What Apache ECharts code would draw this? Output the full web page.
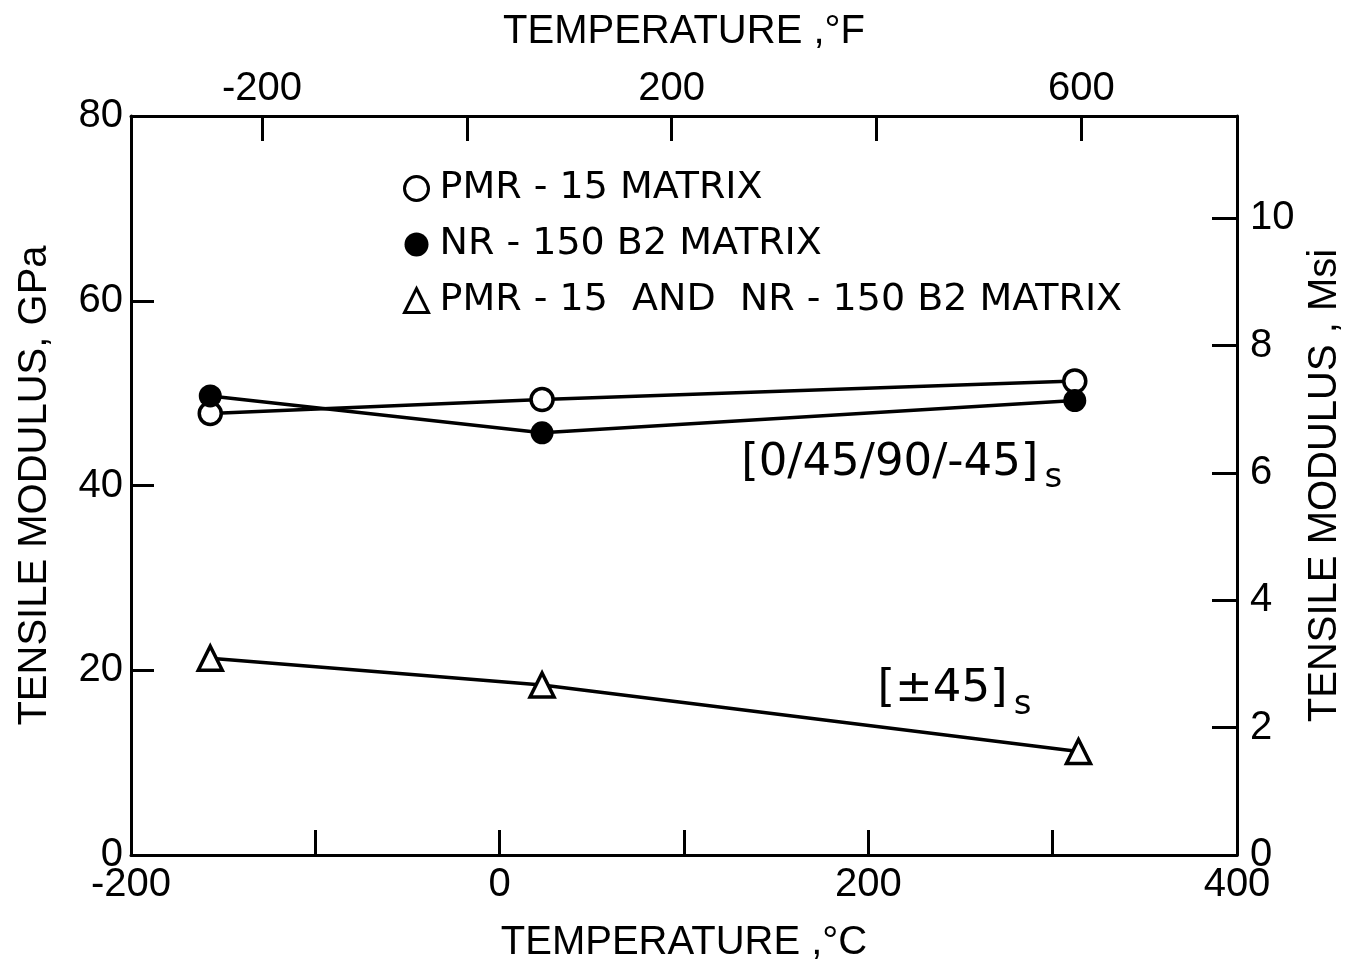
<!DOCTYPE html>
<html>
<head>
<meta charset="utf-8">
<script src="https://cdn.jsdelivr.net/npm/echarts@6/dist/echarts.min.js"></script>
<style>
html,body{margin:0;padding:0;background:#fff;}
#chart{width:1346px;height:968px;}
</style>
</head>
<body>
<div id="chart"></div>
<script>
// ---- data (temperature in °C, modulus in GPa) ----
const pmr15Temp = [-157, 23, 312];
const pmr15Mod = [47.8, 49.3, 51.3];
const nr150Temp = [-157, 23, 312];
const nr150Mod = [49.7, 45.7, 49.2];
const angleTemp = [-157, 23, 314];
const angleMod = [21.3, 18.4, 11.2];

const seriesNames = ['PMR - 15 MATRIX', 'NR - 150 B2 MATRIX', 'PMR - 15  AND  NR - 150 B2 MATRIX'];

const cRange = [-200, 400];
const gpaRange = [0, 80];
const fTicks = [-200, 0, 200, 400, 600];
const fLabels = [-200, 200, 600];
const msiTicks = [0, 2, 4, 6, 8, 10];
const GPA_PER_MSI = 6.894757;

const annoQuasi = { text: '[0/45/90/-45]', sub: 's', t: 131, m: 41.4 };
const annoAngle = { text: '[\u00b145]', sub: 's', t: 205, m: 16.9 };

// ---- chart ----
const FONT = 'Liberation Sans';
const FONT2 = 'DejaVu Sans';
const chart = echarts.init(document.getElementById('chart'), null, { renderer: 'canvas' });

function zip(xs, ys) { return xs.map((x, i) => [x, ys[i]]); }
const toF = c => c * 9 / 5 + 32;

const axisLine = { show: true, onZero: false, lineStyle: { color: '#000', width: 3 } };
const tickStyle = { color: '#000', width: 3 };
const labelStyle = { color: '#000', fontFamily: FONT, fontSize: 40 };
const nameStyle = { color: '#000', fontFamily: FONT, fontSize: 40 };

const option = {
  backgroundColor: '#fff',
  animation: false,
  grid: { left: 131, right: 109, top: 116, bottom: 113, containLabel: false, outerBoundsMode: 'none' },
  legend: {
    orient: 'vertical',
    left: 398,
    top: 163,
    itemWidth: 24,
    itemHeight: 24,
    itemGap: 15,
    textStyle: { color: '#000', fontFamily: FONT2, fontSize: 38, lineHeight: 41, padding: [0, 0, 0, 6] },
    data: [
      { name: seriesNames[0], icon: 'circle', itemStyle: { color: '#fff', borderColor: '#000', borderWidth: 3 } },
      { name: seriesNames[1], icon: 'circle', itemStyle: { color: '#000', borderColor: '#000', borderWidth: 0 } },
      { name: seriesNames[2], icon: 'triangle', itemStyle: { color: '#fff', borderColor: '#000', borderWidth: 3 } }
    ]
  },
  xAxis: [
    {
      type: 'value', position: 'bottom', min: cRange[0], max: cRange[1], interval: 100,
      name: 'TEMPERATURE ,\u00b0C', nameLocation: 'middle', nameGap: 68, nameTextStyle: nameStyle,
      axisLine: axisLine,
      axisTick: { show: true, inside: true, length: 25, lineStyle: tickStyle },
      axisLabel: Object.assign({ margin: 10, formatter: v => (v % 200 === 0 ? String(v) : '') }, labelStyle),
      splitLine: { show: false }
    },
    {
      type: 'value', position: 'top', min: toF(cRange[0]), max: toF(cRange[1]),
      name: 'TEMPERATURE ,\u00b0F', nameLocation: 'middle', nameGap: 64, nameTextStyle: nameStyle,
      axisLine: axisLine,
      axisTick: { show: true, inside: true, length: 25, lineStyle: tickStyle, customValues: fTicks },
      axisLabel: Object.assign({ margin: 7, customValues: fLabels }, labelStyle),
      splitLine: { show: false }
    }
  ],
  yAxis: [
    {
      type: 'value', position: 'left', min: gpaRange[0], max: gpaRange[1], interval: 20,
      name: 'TENSILE MODULUS, GPa', nameLocation: 'middle', nameGap: 76, nameRotate: 90, nameTextStyle: nameStyle,
      axisLine: axisLine,
      axisTick: { show: true, inside: true, length: 23, lineStyle: tickStyle },
      axisLabel: Object.assign({ margin: 8 }, labelStyle),
      splitLine: { show: false }
    },
    {
      type: 'value', position: 'right', min: gpaRange[0] / GPA_PER_MSI, max: gpaRange[1] / GPA_PER_MSI,
      name: 'TENSILE MODULUS , Msi', nameLocation: 'middle', nameGap: 50, nameRotate: 90, nameTextStyle: nameStyle,
      axisLine: axisLine,
      axisTick: { show: true, inside: true, length: 25, lineStyle: tickStyle, customValues: msiTicks },
      axisLabel: Object.assign({ margin: 13, customValues: msiTicks }, labelStyle),
      splitLine: { show: false }
    }
  ],
  series: [
    {
      name: seriesNames[0], type: 'line', xAxisIndex: 0, yAxisIndex: 0,
      data: zip(pmr15Temp, pmr15Mod),
      symbol: 'circle', symbolSize: 22, z: 3,
      lineStyle: { color: '#000', width: 3.5 },
      itemStyle: { color: '#fff', borderColor: '#000', borderWidth: 3.5 }
    },
    {
      name: seriesNames[1], type: 'line', xAxisIndex: 0, yAxisIndex: 0,
      data: zip(nr150Temp, nr150Mod),
      symbol: 'circle', symbolSize: 23, z: 4,
      lineStyle: { color: '#000', width: 3.5 },
      itemStyle: { color: '#000', borderColor: '#000', borderWidth: 0 }
    },
    {
      name: seriesNames[2], type: 'line', xAxisIndex: 0, yAxisIndex: 0,
      data: zip(angleTemp, angleMod),
      symbol: 'triangle', symbolSize: 24, z: 3,
      lineStyle: { color: '#000', width: 3.5 },
      itemStyle: { color: '#fff', borderColor: '#000', borderWidth: 3.5 }
    },
    {
      name: 'annotations', type: 'scatter', xAxisIndex: 0, yAxisIndex: 0,
      symbolSize: 0, silent: true, legendHoverLink: false,
      itemStyle: { opacity: 1 },
      data: [annoQuasi, annoAngle].map(a => ({ value: [a.t, a.m], text: a.text, sub: a.sub })),
      label: {
        show: true, position: [0, 0], align: 'left', verticalAlign: 'middle', color: '#000', opacity: 1,
        formatter: p => '{a|' + p.data.text + '}{s|' + p.data.sub + '}',
        rich: {
          a: { fontFamily: FONT2, fontSize: 45, color: '#000', padding: [0, 0, 19, 0], lineHeight: 46 },
          s: { fontFamily: FONT2, fontSize: 34, color: '#000', verticalAlign: 'bottom', padding: [0, 0, 0, 6] }
        }
      }
    }
  ]
};
chart.setOption(option);
</script>
</body>
</html>
